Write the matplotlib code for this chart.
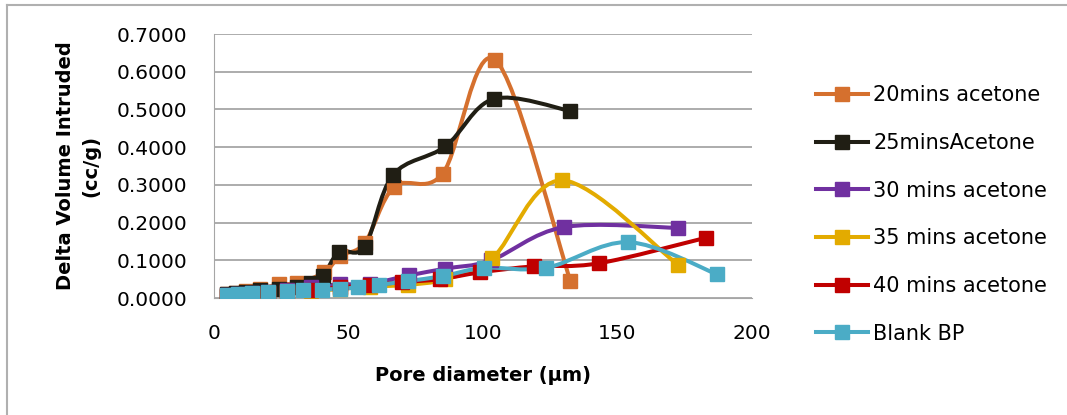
import numpy as np
import matplotlib
matplotlib.use('Agg')
import matplotlib.pyplot as plt
from matplotlib.path import Path
from matplotlib.patches import PathPatch
from matplotlib.lines import Line2D

plt.rcParams['font.family'] = ['DejaVu Sans']

# series: pore diameter (um) and delta volume intruded (cc/g)
x_20 = [5, 8, 12, 17, 24, 31, 41, 47, 56, 67, 85, 104.5, 132.5]
y_20 = [0.010, 0.013, 0.018, 0.024, 0.036, 0.040, 0.068, 0.112, 0.146, 0.295, 0.330, 0.632, 0.045]

x_25 = [5, 8, 12, 17, 24, 31, 36, 40.5, 46.5, 56, 66.5, 86, 104, 132.5]
y_25 = [0.010, 0.012, 0.016, 0.020, 0.025, 0.030, 0.040, 0.058, 0.122, 0.136, 0.326, 0.402, 0.528, 0.496]

x_30 = [5, 9, 14, 20, 27, 36, 47, 58, 72.5, 86, 103, 130, 172.5]
y_30 = [0.008, 0.010, 0.013, 0.017, 0.022, 0.030, 0.036, 0.038, 0.060, 0.078, 0.100, 0.188, 0.186]

x_35 = [5, 9, 14, 20, 27, 36, 47, 58, 72, 86, 103.5, 129.5, 172.5]
y_35 = [0.006, 0.008, 0.010, 0.012, 0.015, 0.018, 0.024, 0.030, 0.035, 0.050, 0.106, 0.312, 0.088]

x_40 = [5, 9, 14, 20, 27, 36, 47, 58, 70, 84, 99, 119, 143, 183]
y_40 = [0.006, 0.008, 0.011, 0.014, 0.018, 0.022, 0.028, 0.035, 0.042, 0.050, 0.068, 0.084, 0.092, 0.160]

x_bp = [5, 9, 14, 20, 27, 33, 40, 47, 53.5, 61.5, 72, 85, 100.5, 123.5, 154, 187]
y_bp = [0.008, 0.010, 0.012, 0.015, 0.018, 0.020, 0.022, 0.025, 0.028, 0.035, 0.045, 0.058, 0.080, 0.080, 0.148, 0.063]

labels = ['20mins acetone', '25minsAcetone', '30 mins acetone',
          '35 mins acetone', '40 mins acetone', 'Blank BP']
colors = ['#D5702E', '#201E14', '#7030A0', '#E3AB00', '#C00000', '#4BACC6']
series = [(x_20, y_20), (x_25, y_25), (x_30, y_30),
          (x_35, y_35), (x_40, y_40), (x_bp, y_bp)]


def smooth_path(xs, ys, k=1/6):
    # Excel-like smoothed line drawn as cubic bezier segments
    pts = np.column_stack([xs, ys])
    n = len(pts)
    verts = [pts[0]]
    codes = [Path.MOVETO]
    for i in range(n - 1):
        p0 = pts[i - 1] if i > 0 else pts[i]
        p1 = pts[i]
        p2 = pts[i + 1]
        p3 = pts[i + 2] if i + 2 < n else pts[i + 1]
        c1 = p1 + (p2 - p0) * k
        c2 = p2 - (p3 - p1) * k
        verts += [c1, c2, p2]
        codes += [Path.CURVE4] * 3
    return Path(verts, codes)


fig = plt.figure(figsize=(10.67, 4.15), dpi=100)
ax = fig.add_axes([0.2006, 0.2819, 0.5042, 0.6361])

handles = []
for (xs, ys), c, lab in zip(series, colors, labels):
    ax.add_patch(PathPatch(smooth_path(xs, ys), facecolor='none', edgecolor=c,
                           lw=2.9, capstyle='round', joinstyle='round', zorder=2))
    ax.plot(xs, ys, ls='none', marker='s', ms=10, color=c, mec=c, zorder=3)
    handles.append(Line2D([0], [0], color=c, lw=2.9, marker='s', ms=10, mec=c))

ax.set_xlim(0, 200)
ax.set_ylim(0, 0.7)
ax.set_xticks([0, 50, 100, 150, 200])
ax.set_yticks(np.arange(0, 0.71, 0.1))
ax.yaxis.set_major_formatter(plt.FuncFormatter(lambda v, p: f'{v:.4f}'))
ax.tick_params(length=0, labelsize=14.5, colors='#000000')
ax.tick_params(axis='y', pad=19)
ax.tick_params(axis='x', pad=19)
ax.grid(axis='y', color='#A6A6A6', lw=1.3)
ax.set_axisbelow(True)
for s in ['top', 'right']:
    ax.spines[s].set_visible(False)
ax.spines['left'].set_color('#A6A6A6')
ax.spines['bottom'].set_color('#A6A6A6')

ax.set_xlabel('Pore diameter (µm)', fontsize=14, fontweight='bold', labelpad=16)
ax.set_ylabel('Delta Volume Intruded\n(cc/g)', fontsize=14, fontweight='bold',
              labelpad=12, linespacing=1.4)

fig.legend(handles=handles, labels=labels, loc='upper left',
           bbox_to_anchor=(0.747, 0.84), frameon=False, fontsize=15,
           handlelength=2.5, handletextpad=0.25, labelspacing=1.33)

# chart area border (left and top edges visible)
fig.add_artist(Line2D([0.0066, 0.0066], [0, 0.988], color='#B0B0B0', lw=1.5))
fig.add_artist(Line2D([0.0066, 1], [0.988, 0.988], color='#B0B0B0', lw=1.5))

fig.savefig('out.png', dpi=100)
